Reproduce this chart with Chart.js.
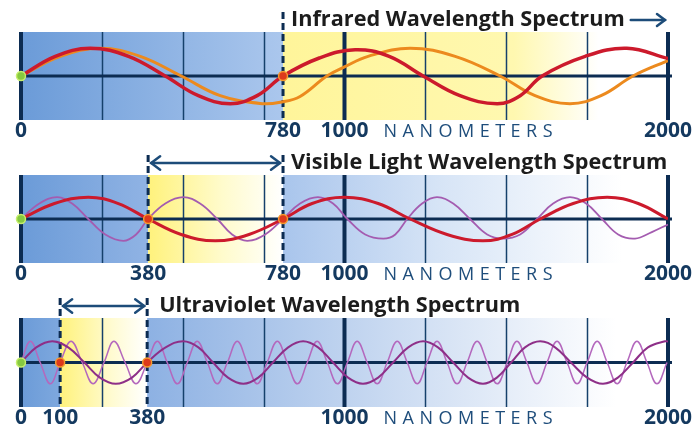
<!DOCTYPE html>
<html>
<head>
<meta charset="utf-8">
<script src="https://cdn.jsdelivr.net/npm/chart.js@4.4.0/dist/chart.umd.min.js"></script>
<style>
  html, body { margin: 0; padding: 0; background: #fff; }
  canvas { position: absolute; left: 0; }
</style>
</head>
<body>
<canvas id="ir" width="693" height="145" style="top:0"></canvas>
<canvas id="vis" width="693" height="145" style="top:145px"></canvas>
<canvas id="uv" width="693" height="140" style="top:290px"></canvas>
<script>
// tick labels (nm)
const irTicks = [0, 780, 1000, 2000];
const visTicks = [0, 380, 780, 1000, 2000];
const uvTicks = [0, 100, 380, 1000, 2000];

// infrared panel
const irRedNm = [0, 102, 206, 320, 429, 528, 623, 703, 780, 910, 1033, 1138, 1243, 1357, 1472, 1543, 1611, 1744, 1873, 2000];
const irRedAmp = [0, .71, 1, .71, 0, -.71, -1, -.71, 0, .65, .95, .71, 0, -.71, -1, -.71, 0, .71, 1, .63];
const irOrangeNm = [0, 117, 236, 355, 477, 593, 718, 780, 841, 937, 1000, 1073, 1203, 1342, 1481, 1589, 1697, 1793, 1892, 2000];
const irOrangeAmp = [0, .71, 1, .71, 0, -.71, -1, -.93, -.74, 0, .33, .71, 1, .71, 0, -.71, -1, -.71, 0, .56];

// visible panel
const visRedNm = [0, 100, 201, 291, 380, 478, 579, 679, 780, 884, 1000, 1104, 1203, 1317, 1428, 1518, 1605, 1707, 1812, 1908, 2000];
const visRedAmp = [0, .71, 1, .71, 0, -.71, -1, -.71, 0, .71, 1, .71, 0, -.71, -1, -.71, 0, .71, 1, .71, 0];
const visVioletNm = [0, 55, 108, 153, 201, 252, 306, 344, 380, 431, 484, 534, 585, 629, 674, 727,
  780, 841, 905, 959, 1009, 1064, 1120, 1157, 1194, 1240, 1286, 1336, 1388, 1441, 1490, 1543,
  1595, 1645, 1697, 1747, 1796, 1846, 1898, 1950, 2000];
const visVioletAmp = [0, .71, 1, .71, 0, -.71, -1, -.71, 0, .71, 1, .71, 0, -.71, -1, -.71,
  0, .71, 1, .71, 0, -.71, -.9, -.71, 0, .71, 1, .71, 0, -.71, -.9, -.71,
  0, .71, 1, .71, 0, -.71, -.9, -.6, -.25];

// ultraviolet panel
const uvLongNm = [0, 39, 80, 126, 178, 228, 279, 331, 380, 438, 493, 541, 587, 634, 682, 729,
  775, 823, 870, 917, 964, 1011, 1057, 1104, 1150, 1197, 1243, 1289, 1336, 1382, 1428, 1471,
  1515, 1558, 1605, 1651, 1700, 1750, 1799, 1845, 1892, 1938, 1991, 2000];
const uvLongAmp = [0, .71, 1, .71, 0, -.71, -1, -.71, 0, .71, 1, .71, 0, -.71, -1, -.71,
  0, .71, 1, .71, 0, -.71, -1, -.71, 0, .71, 1, .71, 0, -.71, -1, -.71,
  0, .71, 1, .71, 0, -.71, -1, -.71, 0, .71, 1, .98];
const uvShortNm = [0, 24, 49, 75, 100, 135, 171, 206, 241, 273, 309, 344, 380,
  412, 443, 475, 506, 537, 569, 600, 632, 663, 694, 726, 757, 789, 820, 852, 883, 914, 946, 978,
  1009, 1039, 1070, 1101, 1132, 1163, 1194, 1225, 1255, 1286, 1317, 1348, 1379, 1410, 1441, 1472,
  1503, 1533, 1564, 1595, 1626, 1657, 1688, 1719, 1750, 1781, 1812, 1843, 1873, 1904, 1935, 1966, 1997];
const uvShortAmp = [0, 1, 0, -1, 0, 1, 0, -1, 0, 1, 0, -1, 0,
  1, 0, -1, 0, 1, 0, -1, 0, 1, 0, -1, 0, 1, 0, -1, 0, 1, 0, -1,
  0, 1, 0, -1, 0, 1, 0, -1, 0, 1, 0, -1, 0, 1, 0, -1,
  0, 1, 0, -1, 0, 1, 0, -1, 0, 1, 0, -1, 0, 1, 0, -1, 0];

// the drawing is not to scale: where each labelled wavelength sits on a 0-2000 run
const axisWarp = {
  ir: { nm: [0, 780, 1000, 2000], at: [0, 810, 1000, 2000] },
  vis: { nm: [0, 380, 780, 1000, 2000], at: [0, 393, 810, 1000, 2000] },
  uv: { nm: [0, 100, 380, 1000, 2000], at: [0, 121, 390, 1000, 2000] },
};

function piecewise(from, to, v) {
  for (let i = 1; i < from.length; i++) {
    if (v <= from[i] || i === from.length - 1) {
      return to[i - 1] + (v - from[i - 1]) * (to[i] - to[i - 1]) / (from[i] - from[i - 1]);
    }
  }
  return v;
}

class WarpScale extends Chart.LinearScale {
  getPixelForValue(value) {
    const w = axisWarp[this.chart.canvas.id];
    return super.getPixelForValue(piecewise(w.nm, w.at, value));
  }
  getValueForPixel(pixel) {
    const w = axisWarp[this.chart.canvas.id];
    return piecewise(w.at, w.nm, super.getValueForPixel(pixel));
  }
}
WarpScale.id = 'warp';
WarpScale.defaults = Chart.LinearScale.defaults;
Chart.register(WarpScale);

const NAVY = '#0c2c52';

function pts(xs, ys) {
  return xs.map((x, i) => ({ x, y: ys[i] }));
}

function wave(data, color, width) {
  return { data, borderColor: color, borderWidth: width, pointRadius: 0, fill: false, tension: 0.4 };
}

function arrowHead(ctx, x, y, dir, size) {
  ctx.beginPath();
  ctx.moveTo(x - dir * size, y - size * 0.75);
  ctx.lineTo(x, y);
  ctx.lineTo(x - dir * size, y + size * 0.75);
  ctx.stroke();
}

function makeDiagram(cfg) {
  return {
    id: 'diagram',
    beforeDatasetsDraw(chart) {
      const { ctx, chartArea: a, scales: { x, y } } = chart;
      ctx.save();
      // tinted bands
      cfg.bands.forEach(b => {
        const x0 = x.getPixelForValue(b.from), x1 = x.getPixelForValue(b.to);
        const g = ctx.createLinearGradient(x0, 0, x1, 0);
        b.stops.forEach(s => g.addColorStop(s[0], s[1]));
        ctx.fillStyle = g;
        ctx.fillRect(x0, a.top, x1 - x0, a.bottom - a.top);
      });
      // column lines
      ctx.strokeStyle = '#15406b';
      ctx.lineWidth = 1.5;
      for (let k = 1; k < 8; k++) {
        if (k === 4) continue;
        const px = Math.round(a.left + k * (a.right - a.left) / 8) + 0.5;
        ctx.beginPath();
        ctx.moveTo(px, a.top);
        ctx.lineTo(px, a.bottom);
        ctx.stroke();
      }
      ctx.strokeStyle = NAVY;
      ctx.lineWidth = 4;
      [0, 1000, 2000].forEach(v => {
        const px = x.getPixelForValue(v);
        ctx.beginPath();
        ctx.moveTo(px, a.top);
        ctx.lineTo(px, a.bottom);
        ctx.stroke();
      });
      // dashed boundaries
      ctx.lineWidth = 3;
      ctx.setLineDash([7, 4]);
      cfg.bounds.forEach(v => {
        const px = x.getPixelForValue(v);
        ctx.beginPath();
        ctx.moveTo(px, a.top - 20);
        ctx.lineTo(px, a.bottom);
        ctx.stroke();
      });
      ctx.setLineDash([]);
      // zero line
      const y0 = y.getPixelForValue(0);
      ctx.lineWidth = 3;
      ctx.beginPath();
      ctx.moveTo(a.left, y0);
      ctx.lineTo(a.right + 4, y0);
      ctx.stroke();
      ctx.restore();
    },
    afterDraw(chart) {
      const { ctx, chartArea: a, scales: { x } } = chart;
      ctx.save();
      const ty = a.top - 12;
      ctx.font = 'bold 21.7px "Open Sans"';
      ctx.fillStyle = '#1c1c1c';
      ctx.textBaseline = 'middle';
      ctx.textAlign = 'left';
      const tx = x.getPixelForValue(cfg.titleAt) + cfg.titleDx;
      ctx.fillText(cfg.title, tx, ty);
      const tw = ctx.measureText(cfg.title).width;
      ctx.strokeStyle = '#1d4c79';
      ctx.lineWidth = 2.5;
      ctx.lineCap = 'round';
      if (cfg.range) {
        const ax0 = x.getPixelForValue(cfg.range[0]) + 3;
        const ax1 = x.getPixelForValue(cfg.range[1]) - 3;
        ctx.beginPath();
        ctx.moveTo(ax0, ty);
        ctx.lineTo(ax1, ty);
        ctx.stroke();
        arrowHead(ctx, ax0, ty, -1, 9);
        arrowHead(ctx, ax1, ty, 1, 9);
      } else {
        const ax0 = tx + tw + 6, ax1 = x.getPixelForValue(2000) - 3;
        ctx.beginPath();
        ctx.moveTo(ax0, ty);
        ctx.lineTo(ax1, ty);
        ctx.stroke();
        arrowHead(ctx, ax1, ty, 1, 8);
      }
      // axis caption
      ctx.font = '18px "Open Sans"';
      ctx.letterSpacing = '5.5px';
      ctx.fillStyle = '#1e4d7b';
      ctx.fillText('NANOMETERS', x.getPixelForValue(1000) + 39, x.top + 1 + 10.5);
      ctx.restore();
    }
  };
}

function buildPanel(id, cfg) {
  const dots = {
    data: [0].concat(cfg.bounds).map(v => ({ x: v, y: 0 })),
    showLine: false,
    clip: false,
    pointRadius: 4.5,
    pointBorderWidth: 1.5,
    pointBackgroundColor: ['#86c940'].concat(cfg.bounds.map(() => '#dd3a1c')),
    pointBorderColor: ['#c6ee6c'].concat(cfg.bounds.map(() => '#f59a2e')),
  };
  new Chart(document.getElementById(id), {
    type: 'line',
    data: { datasets: [dots].concat(cfg.waves) },
    options: {
      responsive: false,
      animation: false,
      events: [],
      layout: { padding: cfg.pad },
      plugins: { legend: { display: false }, tooltip: { enabled: false } },
      scales: {
        x: {
          type: 'warp', min: 0, max: 2000,
          grid: { display: false, drawTicks: false },
          border: { display: false },
          afterBuildTicks: s => { s.ticks = cfg.ticks.map(v => ({ value: v })); },
          ticks: {
            autoSkip: false, maxRotation: 0, padding: 1, color: '#14395f',
            font: { family: '"Open Sans"', weight: 'bold', size: 21, lineHeight: 1 },
            callback: v => String(v),
          },
        },
        y: { display: false, min: -cfg.yr, max: cfg.yr },
      },
    },
    plugins: [makeDiagram(cfg)],
  });
}

buildPanel('ir', {
  ticks: irTicks, bounds: [780], titleAt: 780, titleDx: 8, title: 'Infrared Wavelength Spectrum',
  pad: { left: 21, right: 25, top: 32, bottom: 2 }, yr: 1.59,
  bands: [
    { from: 0, to: 780, stops: [[0, '#6b9bd8'], [1, '#abc7ed']] },
    { from: 780, to: 2000, stops: [[0, '#fff59a'], [0.6, '#fff8b0'], [0.82, '#ffffff'], [1, '#ffffff']] },
  ],
  waves: [
    wave(pts(irRedNm, irRedAmp), '#cc1a2c', 3.5),
    wave(pts(irOrangeNm, irOrangeAmp), '#ec8a1e', 3),
  ],
});

buildPanel('vis', {
  ticks: visTicks, bounds: [380, 780], titleAt: 780, titleDx: 8, title: 'Visible Light Wavelength Spectrum',
  range: [380, 780],
  pad: { left: 21, right: 25, top: 30, bottom: 4 }, yr: 2.02,
  bands: [
    { from: 0, to: 380, stops: [[0, '#6b9bd8'], [1, '#90b3e4']] },
    { from: 380, to: 780, stops: [[0, '#fff27c'], [0.55, '#fffbcc'], [1, '#ffffff']] },
    { from: 780, to: 2000, stops: [[0, '#a9c5ec'], [0.4, '#d6e4f6'], [0.88, '#ffffff'], [1, '#ffffff']] },
  ],
  waves: [
    wave(pts(visRedNm, visRedAmp), '#cc1a2c', 3),
    wave(pts(visVioletNm, visVioletAmp), '#a45cb0', 1.8),
  ],
});

buildPanel('uv', {
  ticks: uvTicks, bounds: [100, 380], titleAt: 380, titleDx: 12, title: 'Ultraviolet Wavelength Spectrum',
  range: [100, 380],
  pad: { left: 21, right: 25, top: 28, bottom: 0 }, yr: 2.09,
  bands: [
    { from: 0, to: 100, stops: [[0, '#6b9bd8'], [1, '#7ea8de']] },
    { from: 100, to: 380, stops: [[0, '#fff27c'], [0.6, '#fffbd2'], [1, '#ffffff']] },
    { from: 380, to: 2000, stops: [[0, '#8db1e3'], [0.45, '#c8d9f1'], [0.9, '#ffffff'], [1, '#ffffff']] },
  ],
  waves: [
    wave(pts(uvLongNm, uvLongAmp), '#8e2f88', 2),
    wave(pts(uvShortNm, uvShortAmp), '#b468bd', 1.5),
  ],
});
</script>
</body>
</html>
